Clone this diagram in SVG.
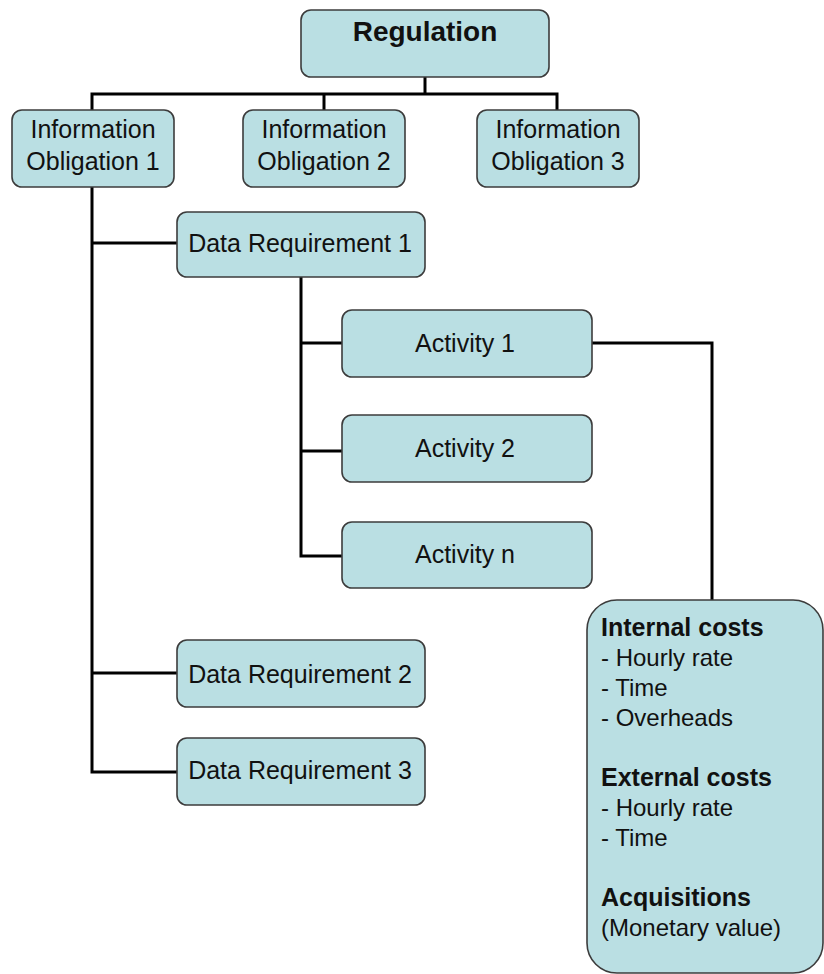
<svg xmlns="http://www.w3.org/2000/svg" width="824" height="974" viewBox="0 0 824 974">
  <style>
    .box { fill: #badfe3; stroke: #3c3c3c; stroke-width: 1.6; }
    .lbl { font-family: "Liberation Sans", Arial, sans-serif; font-size: 25px; fill: #111; text-anchor: middle; }
    .title { font-family: "Liberation Sans", Arial, sans-serif; font-size: 28px; font-weight: bold; fill: #111; text-anchor: middle; }
    .cost { font-family: "Liberation Sans", Arial, sans-serif; font-size: 24px; fill: #111; }
    .cost .head { font-weight: bold; font-size: 25px; }
    .wire { fill: none; stroke: #000; stroke-width: 3; stroke-linejoin: miter; }
  </style>
  <rect width="824" height="974" fill="#fff"/>

  <!-- connectors -->
  <g id="connectors" class="wire">
    <path d="M425 77 V94"/>
    <path d="M92 110 V94 H557 V110"/>
    <path d="M324 94 V110"/>
    <path d="M92 187 V772 H177"/>
    <path d="M92 243 H177"/>
    <path d="M92 673 H177"/>
    <path d="M301 277 V556 H342"/>
    <path d="M301 343 H342"/>
    <path d="M301 451 H342"/>
    <path d="M592 343 H712 V600"/>
  </g>

  <g id="regulation">
    <rect class="box" x="301" y="10" width="248" height="67" rx="10"/>
    <text class="title" x="425" y="41">Regulation</text>
  </g>

  <g id="obligation-1">
    <rect class="box" x="12" y="110" width="162" height="77" rx="10"/>
    <text class="lbl" x="93" y="138">Information</text>
    <text class="lbl" x="93" y="170">Obligation 1</text>
  </g>
  <g id="obligation-2">
    <rect class="box" x="243" y="110" width="162" height="77" rx="10"/>
    <text class="lbl" x="324" y="138">Information</text>
    <text class="lbl" x="324" y="170">Obligation 2</text>
  </g>
  <g id="obligation-3">
    <rect class="box" x="477" y="110" width="162" height="77" rx="10"/>
    <text class="lbl" x="558" y="138">Information</text>
    <text class="lbl" x="558" y="170">Obligation 3</text>
  </g>

  <g id="data-requirement-1">
    <rect class="box" x="177" y="212" width="248" height="65" rx="10"/>
    <text class="lbl" x="300" y="252">Data Requirement 1</text>
  </g>
  <g id="data-requirement-2">
    <rect class="box" x="177" y="640" width="248" height="67" rx="10"/>
    <text class="lbl" x="300" y="683">Data Requirement 2</text>
  </g>
  <g id="data-requirement-3">
    <rect class="box" x="177" y="738" width="248" height="67" rx="10"/>
    <text class="lbl" x="300" y="779">Data Requirement 3</text>
  </g>

  <g id="activity-1">
    <rect class="box" x="342" y="310" width="250" height="67" rx="10"/>
    <text class="lbl" x="465" y="352">Activity 1</text>
  </g>
  <g id="activity-2">
    <rect class="box" x="342" y="415" width="250" height="67" rx="10"/>
    <text class="lbl" x="465" y="457">Activity 2</text>
  </g>
  <g id="activity-n">
    <rect class="box" x="342" y="522" width="250" height="66" rx="10"/>
    <text class="lbl" x="465" y="563">Activity n</text>
  </g>

  <g id="costs">
    <rect class="box" x="587" y="600" width="236" height="373" rx="30"/>
    <text class="cost">
      <tspan class="head" x="601" y="636">Internal costs</tspan>
      <tspan x="601" y="666">- Hourly rate</tspan>
      <tspan x="601" y="696">- Time</tspan>
      <tspan x="601" y="726">- Overheads</tspan>
      <tspan class="head" x="601" y="786">External costs</tspan>
      <tspan x="601" y="816">- Hourly rate</tspan>
      <tspan x="601" y="846">- Time</tspan>
      <tspan class="head" x="601" y="906">Acquisitions</tspan>
      <tspan x="601" y="936">(Monetary value)</tspan>
    </text>
  </g>
</svg>
